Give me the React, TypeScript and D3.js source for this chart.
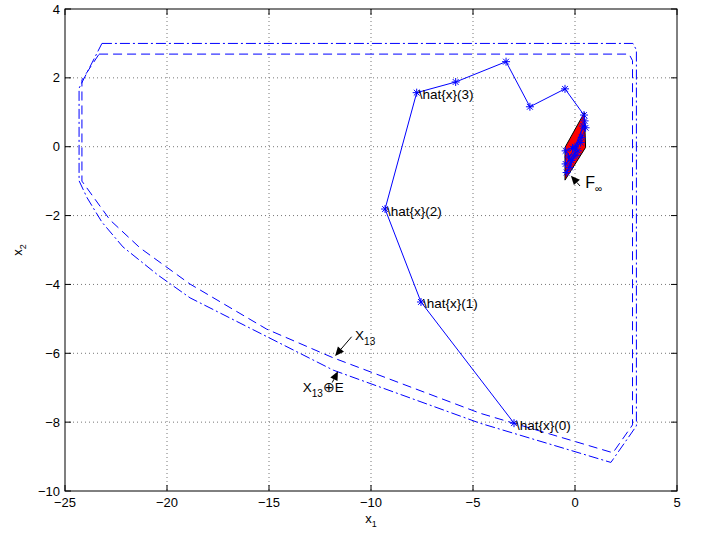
import React from 'react';
import * as d3 from 'd3';

type Pt = [number, number];

const xTicks = [-25, -20, -15, -10, -5, 0, 5];
const yTicks = [4, 2, 0, -2, -4, -6, -8, -10];

// X_13, dashed
const setX13: Pt[] = [
  [-23.33, 2.69], [2.65, 2.69], [2.82, 2.5], [2.82, -8.08], [1.86, -8.89],
  [-4.66, -7.74], [-11.86, -6.13], [-15.11, -5.3], [-18.87, -3.99], [-21.32, -2.94],
  [-22.79, -2.13], [-24.17, -1.0], [-24.17, 1.94],
];

// X_13 (+) E, dash-dot
const setX13E: Pt[] = [
  [-23.19, 3.0], [2.84, 3.0], [3.01, 2.81], [3.01, -8.11], [1.76, -9.17],
  [-4.66, -8.03], [-11.85, -6.49], [-18.87, -4.39], [-20.44, -3.73], [-22.16, -2.91],
  [-23.19, -2.19], [-23.92, -1.48], [-24.31, -0.99], [-24.31, 1.7],
];

// F_inf
const fInf: Pt[] = [[0.46, 0.99], [0.52, -0.02], [-0.49, -0.97], [-0.49, -0.02]];

// state trajectory
const trajX = [-2.99, -7.55, -9.31, -7.76, -5.85, -3.38, -2.21, -0.49, 0.44, 0.47, 0.52, 0.33, -0.12, 0.28, -0.32, 0.14, -0.46, 0.05, -0.41, -0.18, -0.46, 0.0, 0.4, -0.25];
const trajY = [-8.03, -4.51, -1.81, 1.57, 1.88, 2.47, 1.16, 1.68, 0.92, 0.75, 0.55, 0.27, -0.05, 0.12, -0.3, -0.12, -0.5, -0.25, -0.75, -0.4, -0.12, 0.0, 0.6, -0.6];
const hatLabels = ['\\hat{x}(0)', '\\hat{x}(1)', '\\hat{x}(2)', '\\hat{x}(3)'];

const font = 'Liberation Sans, Arial, Helvetica, sans-serif';

const x = d3.scaleLinear().domain([-25, 5]).range([65, 677]);
const y = d3.scaleLinear().domain([-10, 4]).range([491, 9]);

const line = d3.line<Pt>().x(d => x(d[0])).y(d => y(d[1]));
const poly = (p: Pt[]) => line(p) + 'Z';

const star = 'M-4,0H4M0,-4V4M-2.9,-2.9L2.9,2.9M-2.9,2.9L2.9,-2.9';

function Arrow({ from, to }: { from: Pt; to: Pt }) {
  const x1 = x(from[0]), y1 = y(from[1]), x2 = x(to[0]), y2 = y(to[1]);
  const a = Math.atan2(y2 - y1, x2 - x1);
  const len = 9, w = 4;
  const bx = x2 - len * Math.cos(a), by = y2 - len * Math.sin(a);
  const head = [
    [x2, y2],
    [bx + w * Math.sin(a), by - w * Math.cos(a)],
    [bx - w * Math.sin(a), by + w * Math.cos(a)],
  ].map(p => p.join(',')).join(' ');
  return (
    <g>
      <line x1={x1} y1={y1} x2={bx} y2={by} stroke="#000" strokeWidth={1} />
      <polygon points={head} fill="#000" />
    </g>
  );
}

export default function App() {
  const traj: Pt[] = trajX.map((v, i) => [v, trajY[i]]);
  return (
    <svg width={702} height={533} style={{ position: 'absolute', left: 0, top: 0, background: '#fff' }} fontFamily={font}>
      {/* grid */}
      {xTicks.slice(1, -1).map(t => (
        <line key={'gx' + t} x1={x(t)} x2={x(t)} y1={y(4)} y2={y(-10)} stroke="#777" strokeDasharray="1,3" />
      ))}
      {yTicks.slice(1, -1).map(t => (
        <line key={'gy' + t} x1={x(-25)} x2={x(5)} y1={y(t)} y2={y(t)} stroke="#777" strokeDasharray="1,3" />
      ))}

      {/* sets */}
      <path d={poly(setX13)} fill="none" stroke="#0000ff" strokeWidth={1} strokeDasharray="9,5" />
      <path d={poly(setX13E)} fill="none" stroke="#0000ff" strokeWidth={1} strokeDasharray="10,3,2,3" />

      <path d={poly(fInf)} fill="#ff0000" stroke="#000" strokeWidth={1} />

      {/* trajectory */}
      <path d={line(traj) || ''} fill="none" stroke="#0000ff" strokeWidth={1} />
      {traj.map((p, i) => (
        <path key={'s' + i} d={star} transform={`translate(${x(p[0])},${y(p[1])})`} stroke="#0000ff" strokeWidth={1} fill="none" />
      ))}
      {hatLabels.map((t, i) => (
        <text key={'h' + i} x={x(trajX[i]) + 2} y={y(trajY[i]) + 2} fontSize={13.5} dominantBaseline="central">{t}</text>
      ))}

      {/* annotations */}
      <Arrow from={[0.245, -1.14]} to={[-0.2, -0.84]} />
      <text x={x(0.5)} y={y(-1.21)} fontSize={16}>F<tspan dy={4} fontSize={10}>∞</tspan></text>

      <Arrow from={[-10.95, -5.52]} to={[-11.76, -6.08]} />
      <text x={x(-10.78)} y={y(-5.6)} fontSize={13.5}>X<tspan dy={5} fontSize={10}>13</tspan></text>

      <Arrow from={[-11.9, -6.85]} to={[-11.62, -6.52]} />
      <text x={x(-13.35)} y={y(-7.12)} fontSize={13.5}>X<tspan dy={5} fontSize={10}>13</tspan><tspan dy={-5} fontSize={13.5}>⊕E</tspan></text>

      {/* box + ticks */}
      <rect x={x(-25)} y={y(4)} width={x(5) - x(-25)} height={y(-10) - y(4)} fill="none" stroke="#000" strokeWidth={1} />
      {xTicks.map(t => (
        <g key={'tx' + t}>
          <line x1={x(t)} x2={x(t)} y1={y(-10)} y2={y(-10) - 6} stroke="#000" />
          <line x1={x(t)} x2={x(t)} y1={y(4)} y2={y(4) + 6} stroke="#000" />
          <text x={x(t)} y={507} fontSize={13} textAnchor="middle">{t < 0 ? '−' + Math.abs(t) : t}</text>
        </g>
      ))}
      {yTicks.map(t => (
        <g key={'ty' + t}>
          <line x1={x(-25)} x2={x(-25) + 6} y1={y(t)} y2={y(t)} stroke="#000" />
          <line x1={x(5)} x2={x(5) - 6} y1={y(t)} y2={y(t)} stroke="#000" />
          <text x={60} y={y(t)} fontSize={13} textAnchor="end" dominantBaseline="central">{t < 0 ? '−' + Math.abs(t) : t}</text>
        </g>
      ))}

      {/* axis labels */}
      <text x={371} y={523} fontSize={13} textAnchor="middle">x<tspan dy={4} fontSize={9}>1</tspan></text>
      <text transform="translate(22,250) rotate(-90)" fontSize={13} textAnchor="middle">x<tspan dy={4} fontSize={9}>2</tspan></text>
    </svg>
  );
}
